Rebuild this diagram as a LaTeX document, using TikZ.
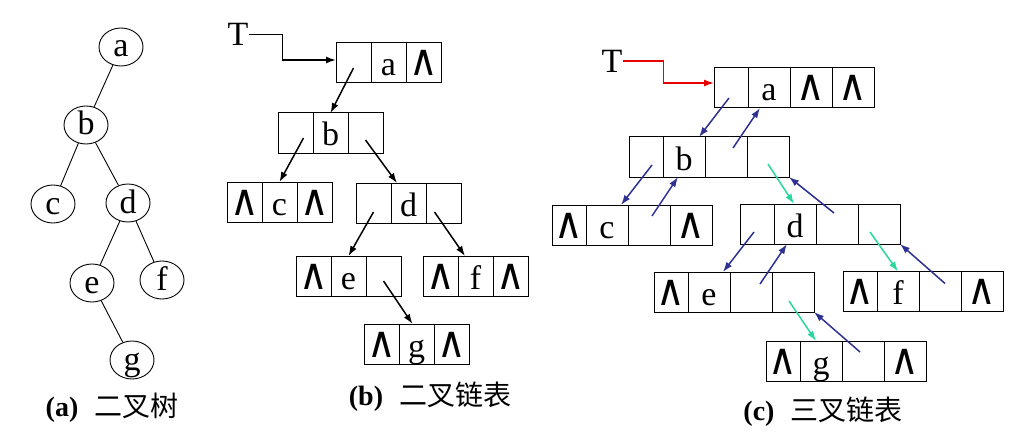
\documentclass[tikz,border=0pt]{standalone}
\usepackage{fontspec}
\setmainfont{Liberation Serif}
\newfontfamily\cjk{Noto Sans CJK SC}
\newfontfamily\nilfont{DejaVu Sans}
\usepackage{xcolor}
\usepackage{tikz}
\usetikzlibrary{positioning,shapes.geometric,arrows.meta}
\definecolor{ptrblue}{RGB}{46,49,146}
\definecolor{ptrgreen}{RGB}{40,215,160}
\definecolor{headred}{RGB}{230,0,0}
\newcommand{\nil}{\scalebox{1.15}[1.28]{\nilfont ∧}}

\begin{document}
\begin{tikzpicture}[x=1pt, y=-1pt, >={Latex[length=10pt,width=7pt]},
    big/.style={font=\fontsize{34}{40}\selectfont},
    tree/.style={big, draw, ellipse, line width=0.9pt, minimum width=44pt, minimum height=38pt, inner sep=0pt, text height=22pt, text depth=2pt},
    cell/.style={big, draw, line width=1pt, minimum width=35pt, minimum height=40pt, inner sep=0pt, outer sep=0pt, text height=33pt, text depth=7pt},
    firstcell/.style={cell, minimum width=34pt},
    widecell/.style={cell, minimum width=42pt},
    link/.style={->, line width=1.5pt},
    captext/.style={font=\fontsize{28}{32}\selectfont}]
            \useasboundingbox (0,0) rectangle (1017,433);
            % (a) binary tree
            \node [tree] (ta) at (121,47) {a};
            \node [tree] (tb) at (86,125) {b};
            \node [tree] (tc) at (53,204) {c};
            \node [tree] (td) at (128,203) {d};
            \node [tree] (te) at (92,283) {e};
            \node [tree] (tf) at (162,280) {f};
            \node [tree] (tg) at (132,360) {g};
            \draw [line width=0.9pt] (ta)--(tb);
            \draw [line width=0.9pt] (tb)--(tc);
            \draw [line width=0.9pt] (tb)--(td);
            \draw [line width=0.9pt] (td)--(te);
            \draw [line width=0.9pt] (td)--(tf);
            \draw [line width=0.9pt] (te)--(tg);
            \node [captext] (capa) at (112,408) {\textbf{(a)}\hspace{16pt}{\cjk 二叉树}};
            % (b) binary linked list
            \node [big, inner sep=0pt] (bT) at (238,34.5) {T};
            \node [cell] (ba1) at (353.5,63) {};
            \node [cell, right=0pt of ba1] (ba2) {a};
            \node [cell, right=0pt of ba2] (ba3) {\nil};
            \node [cell] (bb1) at (295.5,133) {};
            \node [cell, right=0pt of bb1] (bb2) {b};
            \node [cell, right=0pt of bb2] (bb3) {};
            \node [cell] (bc1) at (244.5,202) {\nil};
            \node [cell, right=0pt of bc1] (bc2) {c};
            \node [cell, right=0pt of bc2] (bc3) {\nil};
            \node [cell] (bd1) at (373.5,203) {};
            \node [cell, right=0pt of bd1] (bd2) {d};
            \node [cell, right=0pt of bd2] (bd3) {};
            \node [cell] (be1) at (313.5,276) {\nil};
            \node [cell, right=0pt of be1] (be2) {e};
            \node [cell, right=0pt of be2] (be3) {};
            \node [cell] (bf1) at (440.5,276) {\nil};
            \node [cell, right=0pt of bf1] (bf2) {f};
            \node [cell, right=0pt of bf2] (bf3) {\nil};
            \node [cell] (bg1) at (381.5,344) {\nil};
            \node [cell, right=0pt of bg1] (bg2) {g};
            \node [cell, right=0pt of bg2] (bg3) {\nil};
            \draw [link] (bT.east) -- ++(34,0) |- ([yshift=3pt]ba1.west);
            \draw [link] ([yshift=-5pt]ba1.center) -- (bb2.north);
            \draw [link] ([xshift=8pt,yshift=-5pt]bb1.center) -- (bc2.north);
            \draw [link] ([yshift=-7pt]bb3.center) -- ([xshift=6pt]bd2.north west);
            \draw [link] ([yshift=-9pt]bd1.center) -- (be2.north);
            \draw [link] ([xshift=-9pt,yshift=-9pt]bd3.center) -- ([xshift=7pt]bf2.north west);
            \draw [link] ([yshift=-5pt]be3.center) -- ([xshift=-4pt]bg2.north);
            \node [captext] (capb) at (430,397) {\textbf{(b)}\hspace{16pt}{\cjk 二叉链表}};
            % (c) triple linked list
            \node [big, inner sep=0pt] (cT) at (612,61) {T};
            \node [firstcell] (ca1) at (731,88) {};
            \node [widecell, right=0pt of ca1] (ca2) {a};
            \node [widecell, right=0pt of ca2] (ca3) {\nil};
            \node [widecell, right=0pt of ca3] (ca4) {\nil};
            \node [firstcell] (cb1) at (646,157) {};
            \node [widecell, right=0pt of cb1] (cb2) {b};
            \node [widecell, right=0pt of cb2] (cb3) {};
            \node [widecell, right=0pt of cb3] (cb4) {};
            \node [firstcell] (cc1) at (569,225) {\nil};
            \node [widecell, right=0pt of cc1] (cc2) {c};
            \node [widecell, right=0pt of cc2] (cc3) {};
            \node [widecell, right=0pt of cc3] (cc4) {\nil};
            \node [firstcell] (cd1) at (757,224) {};
            \node [widecell, right=0pt of cd1] (cd2) {d};
            \node [widecell, right=0pt of cd2] (cd3) {};
            \node [widecell, right=0pt of cd3] (cd4) {};
            \node [firstcell] (ce1) at (671,292) {\nil};
            \node [widecell, right=0pt of ce1] (ce2) {e};
            \node [widecell, right=0pt of ce2] (ce3) {};
            \node [widecell, right=0pt of ce3] (ce4) {};
            \node [firstcell] (cf1) at (860,291.5) {\nil};
            \node [widecell, right=0pt of cf1] (cf2) {f};
            \node [widecell, right=0pt of cf2] (cf3) {};
            \node [widecell, right=0pt of cf3] (cf4) {\nil};
            \node [firstcell] (cg1) at (783,361) {\nil};
            \node [widecell, right=0pt of cg1] (cg2) {g};
            \node [widecell, right=0pt of cg2] (cg3) {};
            \node [widecell, right=0pt of cg3] (cg4) {\nil};
            \draw [link, headred] (cT.east) -- ++(41,0) |- ([yshift=5pt]ca1.west);
            \draw [link, ptrblue] ([xshift=-2pt,yshift=-10pt]ca1.center) -- ([xshift=-6pt]cb2.north east);
            \draw [link, ptrblue] ([xshift=7pt,yshift=9pt]cb3.center) -- ([xshift=12pt]ca2.south west);
            \draw [link, ptrblue] ([xshift=6pt,yshift=-8pt]cb1.center) -- ([xshift=-7pt]cc2.north east);
            \draw [link, ptrblue] ([xshift=3pt,yshift=9pt]cc3.center) -- ([xshift=15pt]cb2.south west);
            \draw [link, ptrgreen] ([yshift=-7pt]cb4.center) -- ([xshift=20pt]cd2.north west);
            \draw [link, ptrblue] ([xshift=-3pt,yshift=11pt]cd3.center) -- (cb4.south east);
            \draw [link, ptrblue] ([xshift=-3pt,yshift=-8pt]cd1.center) -- ([xshift=-7pt]ce2.north east);
            \draw [link, ptrblue] ([xshift=9pt,yshift=8pt]ce3.center) -- ([xshift=13pt]cd2.south west);
            \draw [link, ptrgreen] ([xshift=-9pt,yshift=-8pt]cd4.center) -- ([xshift=21pt]cf2.north west);
            \draw [link, ptrblue] ([xshift=5pt,yshift=8pt]cf3.center) -- (cd4.south east);
            \draw [link, ptrgreen] ([xshift=-4pt,yshift=-9pt]ce4.center) -- ([xshift=16pt]cg2.north west);
            \draw [link, ptrblue] ([xshift=-3pt,yshift=9pt]cg3.center) -- (ce4.south east);
            \node [captext] (capc) at (823,412) {\textbf{(c)}\hspace{16pt}{\cjk 三叉链表}};
        \end{tikzpicture}
\end{document}
